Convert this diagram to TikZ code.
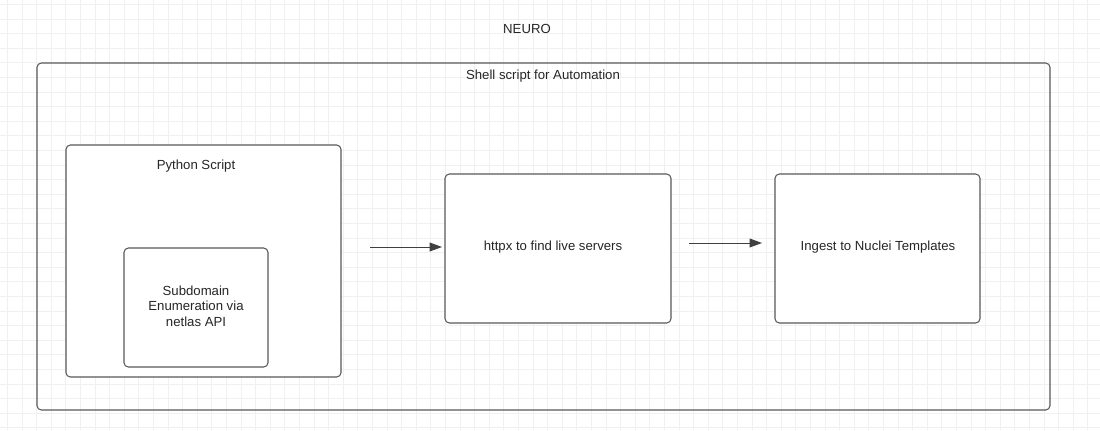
\documentclass[tikz,border=0pt]{standalone}
\usepackage{fontspec}
\setmainfont{Liberation Sans}
\usetikzlibrary{arrows.meta,positioning}
\tikzset{box/.style={draw=black!65, line width=0.6pt, rounded corners=2.5pt, inner sep=0pt},
         lbl/.style={font=\fontsize{7.5}{8.9}\selectfont, text=black!85, align=center},
         flow/.style={draw=black!75, line width=0.5pt, -{Triangle[length=7pt,width=5pt]}}}

\begin{document}
\begin{tikzpicture}[x=0.02cm, y=-0.02cm]
                    \useasboundingbox (0,0) rectangle (1100,430);
                    \fill[white] (0,0) rectangle (1100,430);
                    % background grid
                    \foreach \i in {0,...,75}
                        \draw[black!6, line width=0.3pt] ({7.3+14.6*\i},0) -- ({7.3+14.6*\i},430);
                    \foreach \j in {0,...,29}
                        \draw[black!6, line width=0.3pt] (0,{4.3+14.6*\j}) -- (1100,{4.3+14.6*\j});

                    \node[lbl] (title) at (527,29) {NEURO};

                    \draw[box] (37,63) rectangle (1050,410);
                    \node[lbl] (shell) at (543,76) {Shell script for Automation};

                    \draw[box, fill=white] (66,145) rectangle (341,377);
                    \node[lbl] (python) at (196,166) {Python Script};

                    \draw[box, fill=white] (124,248) rectangle (268,367);
                    \node[lbl] (subdomain) at (196,306) {Subdomain\\Enumeration via\\netlas API};

                    \draw[box, fill=white] (445,174) rectangle (671,323);
                    \node[lbl] (httpx) at (553,247) {httpx to find live servers};

                    \draw[box, fill=white] (775,174) rectangle (980,323);
                    \node[lbl] (nuclei) at (878,247) {Ingest to Nuclei Templates};

                    \coordinate (a1) at (370,247);
                    \coordinate (a2) at (442,247);
                    \coordinate (b1) at (689,243);
                    \coordinate (b2) at (762,243);
                    \draw[flow] (a1) -- (a2);
                    \draw[flow] (b1) -- (b2);
                \end{tikzpicture}
\end{document}
